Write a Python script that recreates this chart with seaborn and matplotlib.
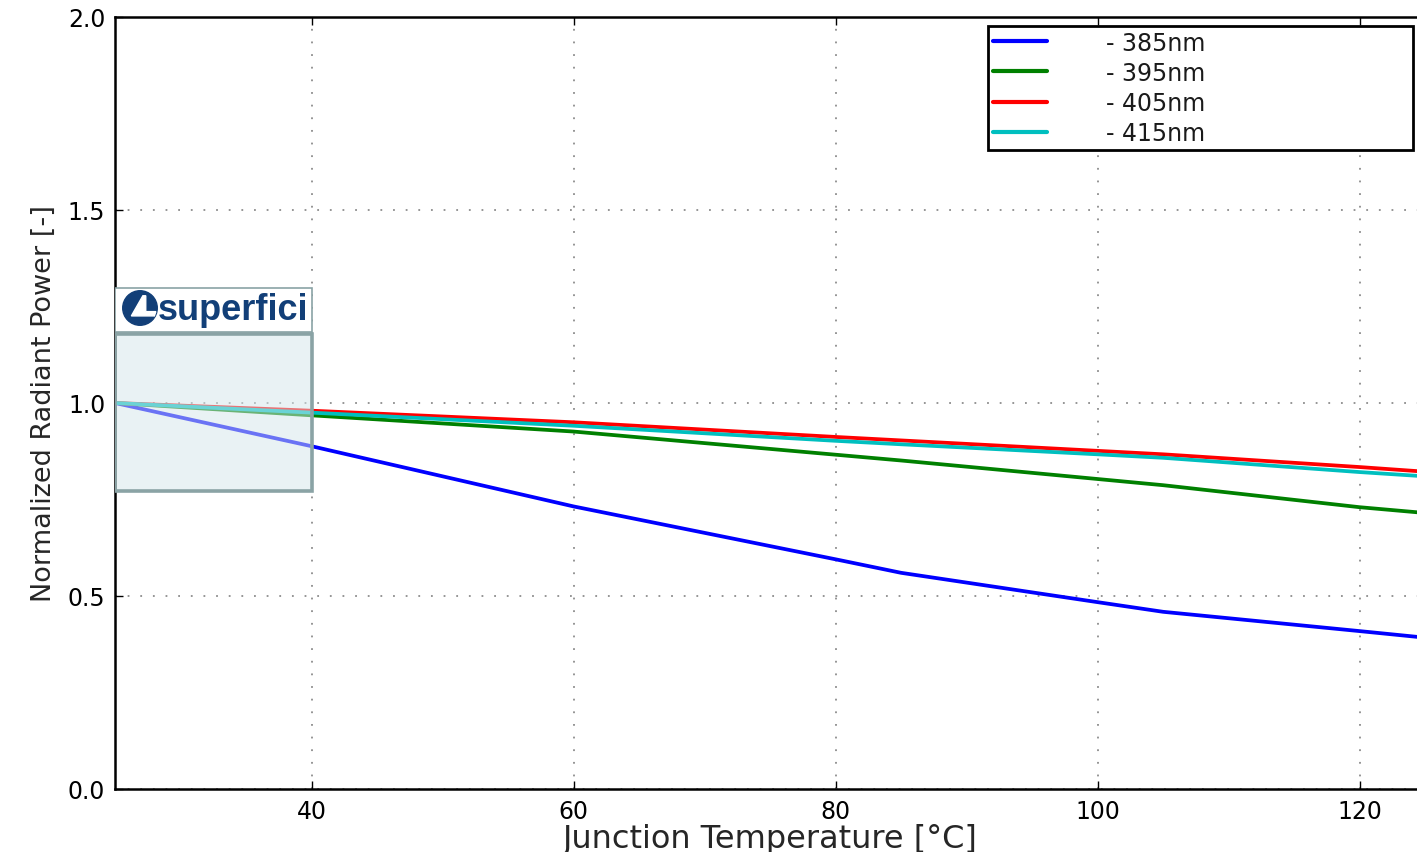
import matplotlib
matplotlib.use("Agg")
import matplotlib.pyplot as plt
from matplotlib.patches import Rectangle, Circle, Polygon
import pandas as pd
import seaborn as sns

# Junction temperature samples (°C) and normalized radiant power per wavelength
temperature = [25, 40, 60, 80, 85, 100, 105, 120, 125]
power_385 = [1.000, 0.888, 0.732, 0.595, 0.560, 0.484, 0.459, 0.409, 0.392]
power_395 = [1.000, 0.968, 0.926, 0.866, 0.851, 0.803, 0.787, 0.730, 0.715]
power_405 = [1.000, 0.980, 0.950, 0.912, 0.903, 0.876, 0.867, 0.834, 0.822]
power_415 = [1.000, 0.975, 0.941, 0.902, 0.893, 0.867, 0.858, 0.821, 0.810]

series_labels = ["- 385nm", "- 395nm", "- 405nm", "- 415nm"]
series_colors = ["#0000ff", "#008000", "#ff0000", "#00bfbf"]

x_ticks = [40, 60, 80, 100, 120]
y_ticks = [0.0, 0.5, 1.0, 1.5, 2.0]

frames = []
for label, values in zip(series_labels, [power_385, power_395, power_405, power_415]):
    frames.append(pd.DataFrame({"temp": temperature, "power": values, "series": label}))
data = pd.concat(frames, ignore_index=True)

sns.set_style("white")
plt.rcParams["font.family"] = ["DejaVu Sans"]

fig = plt.figure(figsize=(14.17, 8.53), dpi=100)
ax = fig.add_axes([0.0812, 0.0739, 0.9245, 0.905])

sns.lineplot(data=data, x="temp", y="power", hue="series",
             palette=series_colors, linewidth=2.7, ax=ax, zorder=3)

ax.set_xlim(25, 125)
ax.set_ylim(0, 2.0)
ax.set_xticks(x_ticks)
ax.set_yticks(y_ticks)
ax.set_yticklabels([f"{v:.1f}" for v in y_ticks])
ax.tick_params(axis="both", direction="in", length=6, width=1, colors="black",
               labelsize=17, pad=7, top=True, right=True, left=True, bottom=True)
ax.grid(True, linestyle=(0, (1, 6)), color="#8c8c8c", linewidth=1.3)
for side in ax.spines.values():
    side.set_color("black")
    side.set_linewidth(1.8)

ax.set_xlabel("Junction Temperature [°C]", fontsize=23, labelpad=0)
ax.set_ylabel("Normalized Radiant Power [-]", fontsize=19.5, labelpad=8)

handles, labels = ax.get_legend_handles_labels()
leg = ax.legend(handles, labels, loc="upper left",
                bbox_to_anchor=(0.6664, 0.8316, 0.3244, 0.157), mode="expand",
                fontsize=17, frameon=True, fancybox=False, framealpha=1,
                handlelength=2.3, handletextpad=2.5, borderpad=0.2,
                labelspacing=0.26, borderaxespad=0)
leg.get_frame().set_edgecolor("black")
leg.get_frame().set_linewidth(2)
for ln in leg.get_lines():
    ln.set_linewidth(3)
for t in leg.get_texts():
    t.set_color("#1a1a1a")

# Translucent highlight over the low-temperature region
hl_x, hl_w = 25, 15
ax.add_patch(Rectangle((hl_x, 0.772), hl_w, 0.407, transform=ax.transData,
                       facecolor="#d5e7eb", alpha=0.5, edgecolor="none", zorder=4))
ax.add_patch(Rectangle((hl_x, 0.772), hl_w, 0.407, transform=ax.transData,
                       facecolor="none", edgecolor="#8aa3a5", linewidth=2.6, zorder=5))

# Brand badge above the highlight
ax.add_patch(Rectangle((hl_x, 1.184), hl_w, 0.114, transform=ax.transData,
                       facecolor="white", edgecolor="#8aa3a5", linewidth=1.2, zorder=5))
logo_ax = fig.add_axes([122 / 1417, (853 - 327) / 853, 36 / 1417, 36 / 853])
logo_ax.set_xlim(0, 1)
logo_ax.set_ylim(0, 1)
logo_ax.set_aspect("equal")
logo_ax.axis("off")
logo_ax.add_patch(Circle((0.5, 0.5), 0.48, color="#123f78"))
logo_ax.add_patch(Polygon([[0.58, 0.84], [0.66, 0.84], [0.66, 0.40], [0.94, 0.40],
                           [0.90, 0.28], [0.26, 0.28]], closed=True, color="white"))
fig.text(158 / 1417, (853 - 311) / 853, "superfici", fontsize=26, fontweight="bold",
         color="#123f78", va="center", ha="left", family="Liberation Sans")

fig.savefig("out.png", dpi=100)
